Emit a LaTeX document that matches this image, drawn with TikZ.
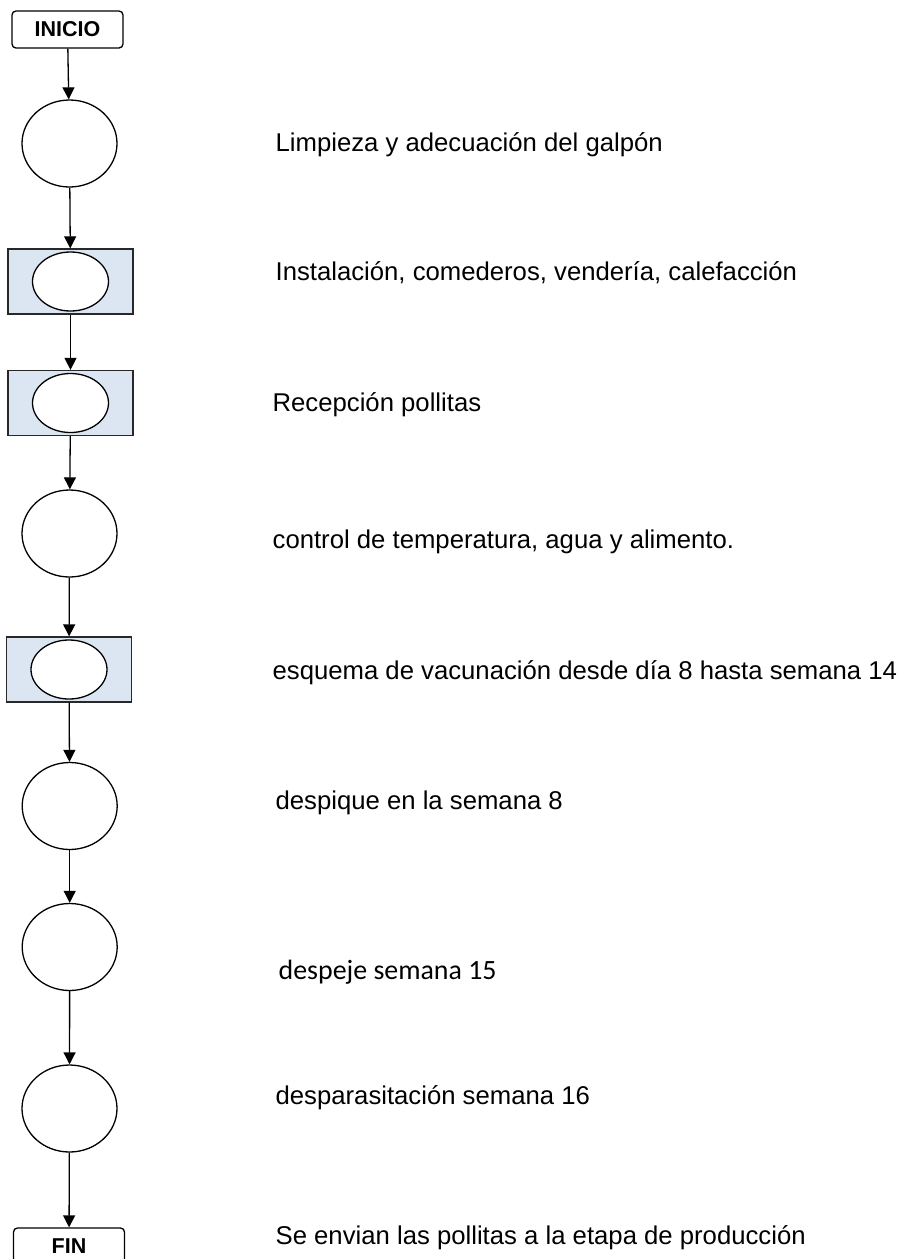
\documentclass[tikz,border=0pt]{standalone}
\usepackage{fontspec}
\setmainfont{Liberation Sans}
\newfontfamily\calibrifont{Carlito}
\usepackage{xcolor}
\definecolor{stageblue}{RGB}{220, 230, 242}
\definecolor{edgegray}{RGB}{40, 40, 40}
\usetikzlibrary{positioning, shapes.geometric, arrows.meta}

\begin{document}
\begin{tikzpicture}[x=1pt, y=-1pt, >={Triangle[length=12pt, width=12pt]}, line width=1.3pt,
    every node/.style={font=\fontsize{25.7}{30}\selectfont},
    terminal/.style={draw, rectangle, rounded corners=4pt, minimum width=111pt, minimum height=37pt, inner sep=0pt, font=\fontsize{21.5}{26}\selectfont\bfseries},
    stage/.style={draw, ellipse, minimum width=95pt, minimum height=87pt, inner sep=0pt},
    holdbox/.style={draw=edgegray, fill=stageblue, rectangle, minimum width=125pt, minimum height=65pt, inner sep=0pt},
    holdring/.style={draw, fill=white, ellipse, minimum width=76pt, minimum height=59pt, inner sep=0pt},
    note/.style={anchor=west, inner sep=0pt}]
    \useasboundingbox (0,0) rectangle (899,1259);

    % left column
    \node [terminal] (inicio) at (67.5,29.5) {INICIO};
    \node [stage] (c1) at (69.5,143.5) {};
    \node [holdbox] (b1) at (70.5,281.5) {};
    \node [holdring] (r1) at (b1.center) {};
    \node [holdbox] (b2) at (70.5,403) {};
    \node [holdring] (r2) at (b2.center) {};
    \node [stage] (c2) at (69.5,533.5) {};
    \node [holdbox] (b3) at (69,669.5) {};
    \node [holdring] (r3) at (b3.center) {};
    \node [stage] (c3) at (69.7,806) {};
    \node [stage] (c4) at (69.7,947) {};
    \node [stage] (c5) at (69.5,1108.5) {};
    \node [terminal] (fin) at (69,1246.5) {FIN};

    % descriptions
    \node [note] (t1) at (275,145) {Limpieza y adecuación del galpón};
    \node [note] (t2) at (275,273) {Instalación, comederos, vendería, calefacción};
    \node [note] (t3) at (272,405) {Recepción pollitas};
    \node [note] (t4) at (272,542) {control de temperatura, agua y alimento.};
    \node [note] (t5) at (272,673) {esquema de vacunación desde día 8 hasta semana 14};
    \node [note] (t6) at (275,803) {despique en la semana 8};
    \node [note, font=\fontsize{27.9}{32}\calibrifont] (t7) at (278,972) {despeje semana 15};
    \node [note] (t8) at (275,1098) {desparasitación semana 16};
    \node [note] (t9) at (275,1238) {Se envian las pollitas a la etapa de producción};

    \draw [->] (inicio) -- (c1);
    \draw [->] (c1) -- (b1);
    \draw [->] (b1) -- (b2);
    \draw [->] (b2) -- (c2);
    \draw [->] (c2) -- (b3);
    \draw [->] (b3) -- (c3);
    \draw [->] (c3) -- (c4);
    \draw [->] (c4) -- (c5);
    \draw [->] (c5) -- (fin);
\end{tikzpicture}
\end{document}
